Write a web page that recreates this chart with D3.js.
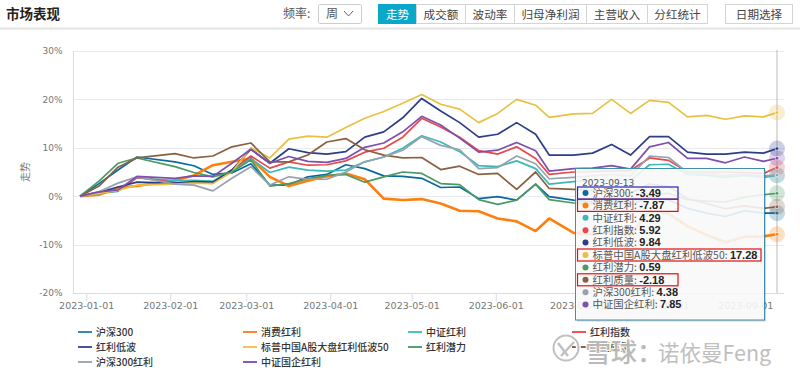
<!DOCTYPE html>
<html>
<head>
<meta charset="utf-8">
<script src="https://cdn.jsdelivr.net/npm/d3@7"></script>
<style>
html,body{margin:0;padding:0;background:#fff;overflow:hidden}
text{font-family:"Noto Sans CJK SC","Noto Sans",sans-serif}
</style>
</head>
<body>
<div id="chart1"></div>
<script>
var dates = ["2022-12-30","2023-01-06","2023-01-13","2023-01-20","2023-02-03","2023-02-10","2023-02-17","2023-02-24","2023-03-03","2023-03-10","2023-03-17","2023-03-24","2023-03-31","2023-04-07","2023-04-14","2023-04-21","2023-04-28","2023-05-05","2023-05-12","2023-05-19","2023-05-26","2023-06-02","2023-06-09","2023-06-16","2023-06-21","2023-06-30","2023-07-07","2023-07-14","2023-07-21","2023-07-28","2023-08-04","2023-08-11","2023-08-18","2023-08-25","2023-09-01","2023-09-08","2023-09-13"];

var hs300    = [0,2.6,5.4,8.1,7.1,6.3,4.5,4.8,6.7,2.3,2.3,4.0,4.5,6.5,5.7,4.2,4.1,3.7,1.8,1.9,-0.5,-0.1,-0.8,2.5,-0.1,-0.8,-1.2,-0.9,-1.8,-0.2,-0.8,-2.5,-3.5,-4.2,-3.0,-3.5,-3.49];
var xiaofei  = [0,0.3,1.8,2.1,3.3,4.3,6.4,7.1,7.8,4.0,2.1,3.2,4.1,4.7,3.5,-0.5,-0.8,-0.6,-1.5,-3.0,-3.1,-4.6,-5.2,-7.2,-4.6,-7.6,-7.9,-7.6,-8.0,-3.0,-3.6,-6.2,-8.0,-9.5,-8.4,-8.3,-7.87];
var zzhl     = [0,0.6,1.0,3.8,3.2,3.3,3.1,5.4,7.8,4.9,6.0,5.4,5.2,5.4,7.1,8.1,9.9,12.5,11.2,9.2,6.3,6.1,7.3,5.7,2.5,3.0,3.3,3.4,3.2,6.5,6.6,4.5,4.3,3.9,4.3,3.9,4.29];
var hlzs     = [0,0.8,1.1,3.9,2.8,2.8,2.7,5.4,8.3,5.8,7.1,6.4,6.5,7.3,9.1,9.9,12.2,16.1,14.3,12.2,9.4,8.7,10.2,7.8,4.5,5.0,5.1,5.2,5.3,7.9,7.4,5.0,5.0,5.0,4.9,4.7,5.92];
var hldb     = [0,0.8,1.9,2.9,2.7,3.0,2.9,5.4,9.7,6.8,9.8,9.0,8.7,9.2,12.2,13.3,16.2,20.2,17.6,15.2,12.2,12.8,15.2,12.8,8.5,8.5,8.9,10.7,8.5,12.3,12.3,9.1,8.7,8.7,9.1,8.9,9.84];
var spzg     = [0,0.6,1.2,2.3,2.5,2.7,2.6,5.0,10.0,7.9,11.8,12.4,12.2,14.2,16.1,17.5,19.2,21.0,19.0,18.0,15.2,17.1,20.0,18.8,16.3,17.0,17.1,20.0,17.1,19.8,19.4,16.4,16.7,15.9,16.6,16.4,17.28];
var hlql     = [0,3.1,6.8,7.9,6.1,4.9,4.0,5.0,7.5,2.1,2.6,3.6,4.3,4.5,2.9,4.0,5.0,4.7,2.6,2.4,-0.7,-1.7,-0.8,2.5,-0.7,-1.4,-1.6,-0.7,-1.2,0.3,0.6,-0.7,-1.0,-1.2,-0.2,0.3,0.59];
var hlzl     = [0,2.1,6.0,7.9,8.8,7.9,8.3,10.2,11.0,7.1,7.1,8.5,11.2,11.9,9.6,8.5,7.9,8.0,5.5,6.2,4.5,4.7,1.4,5.0,1.6,1.4,1.2,1.0,0.6,2.5,2.0,-0.5,-1.5,-2.6,-2.0,-2.5,-2.18];
var hs300hl  = [0,0.9,2.7,4.0,2.5,2.3,1.1,3.7,6.1,2.3,4.0,3.5,3.5,5.0,7.1,8.1,9.5,12.3,10.5,9.6,5.7,5.9,8.3,6.7,3.6,3.9,4.2,4.5,4.2,8.3,8.0,4.9,4.7,4.3,4.6,4.2,4.38];
var zzgq     = [0,0.9,1.3,4.1,3.7,4.2,4.1,6.8,9.7,6.8,8.2,7.2,7.0,7.8,10.1,11.0,13.3,16.5,14.7,12.0,9.1,9.5,11.1,9.4,5.2,5.7,5.8,6.3,5.6,10.2,11.1,7.8,7.8,6.9,8.1,7.2,7.85];

var names = ["沪深300","消费红利","中证红利","红利指数","红利低波","标普中国A股大盘红利低波50","红利潜力","红利质量","沪深300红利","中证国企红利"];
var seriesValues = [hs300,xiaofei,zzhl,hlzs,hldb,spzg,hlql,hlzl,hs300hl,zzgq];
var colors = ["#0a6aa0","#ff7f0e","#3cb8b8","#e8474c","#2c3e86","#e8c142","#4c9a62","#8a6040","#96a2b0","#7c50ac"];
var legendColors = ["#0a6aa0","#ff6a00","#1fb5b5","#e82c2c","#1c2a7a","#f0b428","#2e8b4f","#6e3a1e","#8a95a5","#6a2fb0"];
var widths = [1.7,2.6,1.7,1.7,1.7,1.7,1.7,1.7,1.7,1.7];

var yTicks = [-20,-10,0,10,20,30];
var xTicks = ["2023-01-01","2023-02-01","2023-03-01","2023-04-01","2023-05-01","2023-06-01","2023-07-01","2023-08-01","2023-09-01"];
var tabs = ["走势","成交额","波动率","归母净利润","主营收入","分红统计"];
var tabEdges = [378,416,465,514,586,647,707];
var hoverDate = "2023-09-13";
var boxed = {"沪深300":"#2222bb","消费红利":"#e01010","标普中国A股大盘红利低波50":"#e01010","红利质量":"#e01010"};

//Width and height
var w = 800;
var h = 375;
var parseTime = d3.timeParse("%Y-%m-%d");
var formatTime = d3.timeFormat("%Y-%m-%d");

var xScale = d3.scaleTime()
	.domain([parseTime(dates[0]),parseTime(dates[dates.length-1])])
	.range([80,777]);
var yScale = d3.scaleLinear().domain([-20,30]).range([293,51]);

var svg = d3.select("#chart1").append("svg")
	.attr("width",w).attr("height",h)
	.style("display","block");

drawHeader();
drawAxes();
drawLines();
drawLegend();
drawTooltip();
drawWatermark();

function drawHeader(){
	svg.append("text").attr("x",6).attr("y",19).text("市场表现")
		.style("font-size","13.5px").style("font-weight","700").attr("fill","#222");
	svg.append("line").attr("x1",0).attr("x2",w).attr("y1",28.5).attr("y2",28.5)
		.attr("stroke","#e4e4e4").attr("stroke-width",2);
	svg.append("text").attr("x",283).attr("y",18).text("频率:")
		.style("font-size","12px").attr("fill","#555");
	svg.append("rect").attr("x",318.5).attr("y",4.5).attr("width",43).attr("height",19)
		.attr("rx",1).attr("fill","#fff").attr("stroke","#ccc");
	svg.append("text").attr("x",326).attr("y",18).text("周")
		.style("font-size","12px").attr("fill","#555");
	svg.append("path").attr("d","M344 11 L348.5 16 L353 11").attr("fill","none").attr("stroke","#666");

	var g = svg.append("g").selectAll("g").data(tabs).enter().append("g");
	g.append("rect")
		.attr("x",function(d,i){return tabEdges[i]+0.5})
		.attr("y",4.5)
		.attr("width",function(d,i){return tabEdges[i+1]-tabEdges[i]})
		.attr("height",19)
		.attr("fill",function(d,i){return i==0?"#0aa8c8":"#fff"})
		.attr("stroke",function(d,i){return i==0?"#0aa8c8":"#d4d4d4"});
	g.append("text")
		.attr("x",function(d,i){return (tabEdges[i]+tabEdges[i+1])/2+0.5})
		.attr("y",18.5)
		.attr("text-anchor","middle")
		.text(function(d){return d})
		.style("font-size","11.6px")
		.attr("fill",function(d,i){return i==0?"#fff":"#444"});

	svg.append("rect").attr("x",725.5).attr("y",4.5).attr("width",67).attr("height",19)
		.attr("fill","#fff").attr("stroke","#d4d4d4");
	svg.append("text").attr("x",759).attr("y",18.5).attr("text-anchor","middle").text("日期选择")
		.style("font-size","11.6px").attr("fill","#444");
}

function drawAxes(){
	//Grid
	svg.append("g").selectAll("line").data(yTicks.filter(function(d){return d!=-20})).enter().append("line")
		.attr("x1",73).attr("x2",784)
		.attr("y1",function(d){return Math.round(yScale(d))+0.5})
		.attr("y2",function(d){return Math.round(yScale(d))+0.5})
		.attr("stroke","#e9e9ee");

	//Define X axis
	var xAxis = d3.axisBottom().scale(xScale)
		.tickValues(xTicks.map(parseTime))
		.tickFormat(formatTime)
		.tickSize(8).tickPadding(1);
	var gx = svg.append("g").attr("class","axis").attr("transform","translate(0.8,293.5)").call(xAxis);
	gx.select(".domain").remove();
	gx.selectAll("line").attr("stroke","#d5dcec");
	gx.selectAll("text").style("font-family","DejaVu Sans").style("font-size","9.5px").attr("fill","#777");

	//Define Y axis
	var yAxis = d3.axisLeft().scale(yScale)
		.tickValues(yTicks)
		.tickFormat(function(d){return (d<0?"-":"")+Math.abs(d)+"%"})
		.tickSize(0).tickPadding(11);
	var gy = svg.append("g").attr("class","axis").attr("transform","translate(73.5,0)").call(yAxis);
	gy.select(".domain").remove();
	gy.selectAll("text").style("font-family","DejaVu Sans").style("font-size","9px").attr("fill","#777");

	svg.append("line").attr("x1",73.5).attr("x2",73.5).attr("y1",51).attr("y2",293).attr("stroke","#d5dcec");
	svg.append("line").attr("x1",73).attr("x2",784).attr("y1",293.5).attr("y2",293.5).attr("stroke","#d5dcec");

	svg.append("text").attr("transform","translate(29,172) rotate(-90)")
		.attr("text-anchor","middle").text("走势")
		.style("font-size","10px").attr("fill","#777");

	//hover line
	svg.append("line")
		.attr("x1",xScale(parseTime(hoverDate))).attr("x2",xScale(parseTime(hoverDate)))
		.attr("y1",50).attr("y2",293).attr("stroke","#bbb");
}

function drawLines(){
	var line = d3.line()
		.x(function(d,i){return xScale(parseTime(dates[i]))})
		.y(function(d){return yScale(d)});

	svg.append("g").selectAll("path").data(seriesValues).enter().append("path")
		.attr("d",line)
		.attr("fill","none")
		.attr("stroke",function(d,i){return colors[i]})
		.attr("stroke-width",function(d,i){return widths[i]})
		.attr("stroke-linejoin","round");

	var last = dates.length-1;
	var ends = svg.append("g").selectAll("g").data(seriesValues).enter().append("g")
		.attr("transform",function(d){return "translate("+xScale(parseTime(dates[last]))+","+yScale(d[last])+")"});
	ends.append("circle").attr("r",8)
		.attr("fill",function(d,i){return colors[i]}).attr("opacity",.25);
	ends.append("circle").attr("r",1.8)
		.attr("fill",function(d,i){return colors[i]}).attr("stroke","#fff").attr("stroke-width",.6);
}

function drawLegend(){
	var colX = [78,243,408,572];
	var rowY = [332,347,362];
	var g = svg.append("g").selectAll("g").data(names).enter().append("g")
		.attr("transform",function(d,i){
			var row = i<4?0:(i<8?1:2);
			var col = i<4?i:(i<8?i-4:i-8);
			return "translate("+colX[col]+","+rowY[row]+")";
		});
	g.append("line").attr("x1",0).attr("x2",14).attr("y1",0).attr("y2",0)
		.attr("stroke",function(d,i){return legendColors[i]}).attr("stroke-width",1.6);
	g.append("text").attr("x",18).attr("y",3.8).text(function(d){return d})
		.style("font-size","10px").style("font-weight","500").attr("fill","#333");
}

function drawTooltip(){
	var tipX = 575.5, tipY = 168.5, tipW = 189, tipH = 151.5;
	svg.append("rect").attr("x",tipX+1.5).attr("y",tipY+1.5).attr("width",tipW).attr("height",tipH)
		.attr("fill","#000").attr("opacity",.18);
	svg.append("rect").attr("x",tipX).attr("y",tipY).attr("width",tipW).attr("height",tipH)
		.attr("fill","rgba(255,255,255,0.87)").attr("stroke","#3f90ad").attr("stroke-width",1);
	svg.append("text").attr("x",582).attr("y",185.5).text(hoverDate)
		.style("font-family","DejaVu Sans").style("font-size","9px").attr("fill","#555");

	var last = dates.length-1;
	var rowH = 12.4;
	var row = svg.append("g").selectAll("g").data(names).enter().append("g")
		.attr("transform",function(d,i){return "translate(0,"+(193+i*rowH)+")"});
	row.append("circle").attr("cx",585.5).attr("cy",0).attr("r",3)
		.attr("fill",function(d,i){return colors[i]});
	var t = row.append("text").attr("x",592.5).attr("y",3.8)
		.style("font-size","10.4px").attr("fill","#555");
	t.append("tspan").text(function(d){return d+": "});
	t.append("tspan").text(function(d,i){return seriesValues[i][last].toFixed(2)})
		.style("font-family","Liberation Sans").style("font-size","11px").style("font-weight","700").attr("fill","#222");

	//hand drawn boxes
	row.filter(function(d){return boxed[d]}).append("rect")
		.attr("x",577.5).attr("y",-6)
		.attr("width",function(d){return d==names[5]?183.5:100.5})
		.attr("height",12)
		.attr("fill","none")
		.attr("stroke",function(d){return boxed[d]})
		.attr("stroke-width",1.2);
}

function drawWatermark(){
	var g = svg.append("g").attr("opacity",.95);
	g.append("circle").attr("cx",566).attr("cy",348).attr("r",12.5)
		.attr("fill","none").attr("stroke","#fff").attr("stroke-width",5);
	g.append("circle").attr("cx",566).attr("cy",348).attr("r",12.5)
		.attr("fill","none").attr("stroke","#bdbdbd").attr("stroke-width",2);
	g.append("path").attr("d","M558 343 L568 356 M574 342 L561 356")
		.attr("fill","none").attr("stroke","#bdbdbd").attr("stroke-width",2.4);
	g.append("text").attr("x",585).attr("y",362).text("雪球：")
		.style("font-size","26px").style("font-weight","500").attr("fill","#b8b8b8")
		.attr("stroke","#fff").attr("stroke-width",2).attr("paint-order","stroke");
	g.append("text").attr("x",658).attr("y",361).text("诺依曼Feng")
		.style("font-size","21.5px").attr("fill","#bcbcbc")
		.attr("stroke","#fff").attr("stroke-width",2).attr("paint-order","stroke");
}
</script>
</body>
</html>
